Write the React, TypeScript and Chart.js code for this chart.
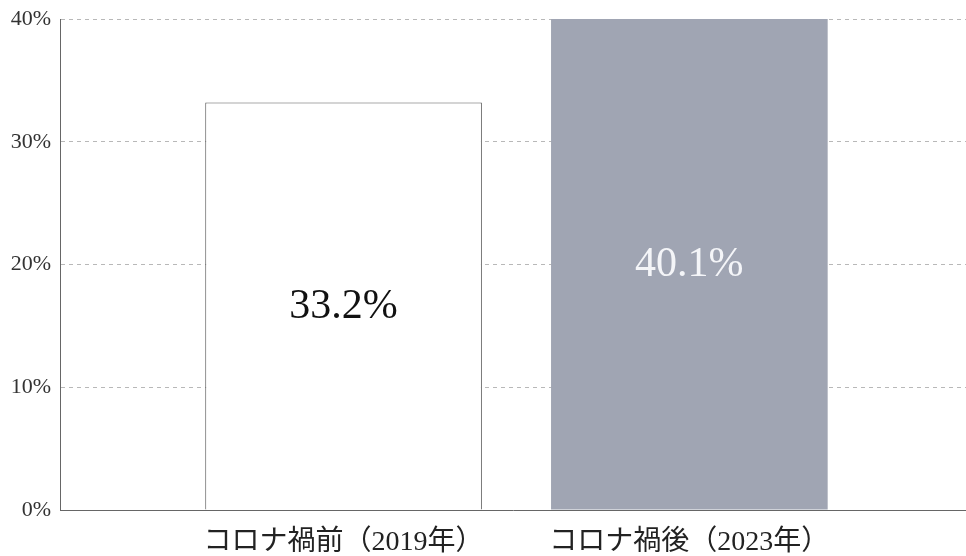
import React, { useEffect, useRef } from "react";
import { Chart, registerables } from "chart.js";

Chart.register(...registerables);

const categories = ["コロナ禍前（2019年）", "コロナ禍後（2023年）"];
const positions = [1, 2];
const values = [33.2, 40.1];
const valueLabels = ["33.2%", "40.1%"];
const yTicks = [0, 10, 20, 30, 40];

const SERIF = "'Liberation Serif', 'Noto Sans CJK JP', serif";

const labelPlugin = {
  id: "barLabels",
  afterDatasetsDraw(chart: any) {
    const { ctx, chartArea } = chart;
    const meta = chart.getDatasetMeta(0);
    ctx.save();
    ctx.font = `42px ${SERIF}`;
    ctx.textAlign = "center";
    ctx.textBaseline = "middle";
    meta.data.forEach((bar: any, i: number) => {
      const top = Math.max(bar.y, chartArea.top);
      const mid = (top + bar.base) / 2 + 1;
      ctx.fillStyle = i === 0 ? "#111111" : "#f4f5f8";
      ctx.fillText(valueLabels[i], bar.x, mid);
    });
    ctx.restore();
  },
};

export default function App() {
  const ref = useRef<HTMLCanvasElement>(null);
  useEffect(() => {
    if (!ref.current) return;
    const chart = new Chart(ref.current, {
      type: "bar",
      data: {
        datasets: [
          {
            data: positions.map((p, i) => ({ x: p, y: values[i] })),
            backgroundColor: ["#ffffff", "#a0a5b3"],
            borderColor: ["#555555", "#a0a5b3"],
            borderWidth: [1, 0],
            borderSkipped: "bottom",
            barPercentage: 0.8,
            categoryPercentage: 1,
          } as any,
        ],
      },
      plugins: [labelPlugin],
      options: {
        animation: false,
        responsive: true,
        maintainAspectRatio: false,
        layout: { padding: { top: 19, right: 0, bottom: 0, left: 0 } },
        plugins: { legend: { display: false }, tooltip: { enabled: false } },
        scales: {
          x: {
            type: "linear",
            offset: false,
            min: 0.18,
            max: 2.8,
            grid: { display: false, drawTicks: false, offset: false },
            border: { display: true, color: "#666666", width: 1 },
            afterBuildTicks: (scale: any) => {
              scale.ticks = positions.map((v) => ({ value: v }));
            },
            afterFit: (scale: any) => {
              scale.height = 46;
              scale.paddingLeft = 0;
              scale.paddingRight = 0;
            },
            ticks: {
              autoSkip: false,
              maxRotation: 0,
              minRotation: 0,
              padding: 16,
              color: "#222222",
              font: { family: SERIF, size: 28 },
              callback: (v: any) => categories[positions.indexOf(Number(v))] ?? "",
            },
          },
          y: {
            min: 0,
            max: 40,
            afterBuildTicks: (scale: any) => {
              scale.ticks = yTicks.map((v) => ({ value: v }));
            },
            afterFit: (scale: any) => {
              scale.width = 60;
              scale.paddingTop = 0;
              scale.paddingBottom = 0;
            },
            grid: { color: "#b8b8b8", drawTicks: false, lineWidth: 1 },
            border: { display: true, color: "#666666", width: 1, dash: [4, 4] },
            ticks: {
              padding: 9,
              color: "#333333",
              font: { family: SERIF, size: 22 },
              callback: (v: any) => `${v}%`,
            },
          },
        },
      } as any,
    });
    return () => chart.destroy();
  }, []);
  return (
    <div style={{ position: "fixed", left: 0, top: 0, width: 966, height: 556, background: "#fff" }}>
      <canvas ref={ref} />
    </div>
  );
}
